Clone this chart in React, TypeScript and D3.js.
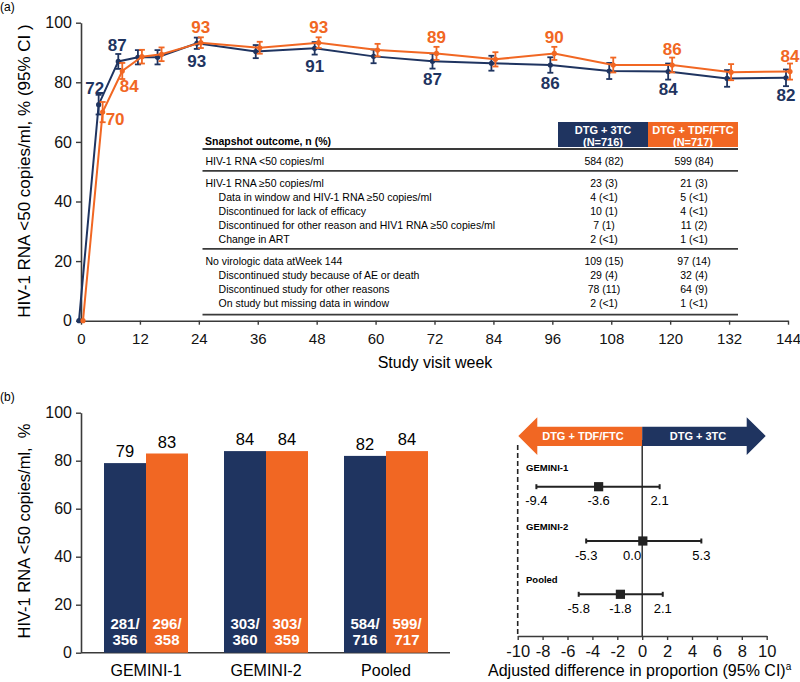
import { useEffect, useRef } from "react";
import { axisBottom, axisLeft, line, scaleBand, scaleLinear, select } from "d3";

// panel (a): week 144 snapshot over time
const weeks = [0, 4, 8, 12, 16, 24, 36, 48, 60, 72, 84, 96, 108, 120, 132, 144];
const pct3tc = [0, 72.5, 87, 88.4, 88.4, 93.1, 90.3, 91.4, 88.7, 87.1, 86.4, 85.8, 83.8, 83.6, 81.3, 81.5];
const pctTdf = [0, 70, 83.8, 88.6, 89.4, 93.3, 91.6, 93.3, 90.8, 89.7, 87.7, 89.7, 85.8, 85.8, 83.4, 83.6];
const ci3tc = [0, 3.3, 2.5, 2.4, 2.4, 1.9, 2.2, 2.1, 2.3, 2.5, 2.5, 2.6, 2.7, 2.7, 2.8, 2.8];
const ciTdf = [0, 3.4, 2.7, 2.3, 2.3, 1.8, 2.0, 1.8, 2.1, 2.2, 2.4, 2.2, 2.5, 2.5, 2.7, 2.7];
const labelWeeks = [4, 8, 24, 48, 72, 96, 120, 144];
const labels3tc = ["72", "87", "93", "91", "87", "86", "84", "82"];
const labelsTdf = ["70", "84", "93", "93", "89", "90", "86", "84"];
const weekTicks = [0, 12, 24, 36, 48, 60, 72, 84, 96, 108, 120, 132, 144];
const pctTicks = [0, 20, 40, 60, 80, 100];

// snapshot table
const tableRowLabels = [
  "HIV-1 RNA <50 copies/ml",
  "HIV-1 RNA \u226550 copies/ml",
  "Data in window and HIV-1 RNA \u226550 copies/ml",
  "Discontinued for lack of efficacy",
  "Discontinued for other reason and HIV1 RNA \u226550 copies/ml",
  "Change in ART",
  "No virologic data atWeek 144",
  "Discontinued study because of AE or death",
  "Discontinued study for other reasons",
  "On study but missing data in window",
];
const tableIndent = [0, 0, 1, 1, 1, 1, 0, 1, 1, 1];
const tableGroupStart = [true, true, false, false, false, false, true, false, false, false];
const table3tc = ["584 (82)", "23 (3)", "4 (<1)", "10 (1)", "7 (1)", "2 (<1)", "109 (15)", "29 (4)", "78 (11)", "2 (<1)"];
const tableTdf = ["599 (84)", "21 (3)", "5 (<1)", "4 (<1)", "11 (2)", "1 (<1)", "97 (14)", "32 (4)", "64 (9)", "1 (<1)"];

// panel (b): bars
const studies = ["GEMINI-1", "GEMINI-2", "Pooled"];
const bar3tc = [79, 84, 82];
const barTdf = [83, 84, 84];
const frac3tc = [["281/", "356"], ["303/", "360"], ["584/", "716"]];
const fracTdf = [["296/", "358"], ["303/", "359"], ["599/", "717"]];

// panel (b): forest plot (positions as drawn, labels as reported)
const diffEst = [-3.5, 0.05, -1.75];
const diffLow = [-8.5, -4.5, -5.1];
const diffHigh = [1.4, 4.75, 1.65];
const estLabels = ["-3.6", "0.0", "-1.8"];
const lowLabels = ["-9.4", "-5.3", "-5.8"];
const highLabels = ["2.1", "5.3", "2.1"];
const diffTicks = [-10, -8, -6, -4, -2, 0, 2, 4, 6, 8, 10];

const NAVY = "#1f3460";
const ORANGE = "#f16723";
const AXIS = "#3a3a3a";
const FONT = "'Liberation Sans', Arial, Helvetica, sans-serif";
const NARROW = "'Liberation Sans Narrow', 'Arial Narrow', 'Liberation Sans', sans-serif";

export default function App() {
  const svgRef = useRef<SVGSVGElement | null>(null);

  useEffect(() => {
    if (!svgRef.current) return;
    const svg = select(svgRef.current);
    svg.selectAll("*").remove();
    svg.attr("font-family", FONT);

    const styleAxis = (g: any, size: number) => {
      g.attr("font-family", FONT).attr("font-size", size);
      g.selectAll("path.domain").attr("stroke", AXIS).attr("stroke-width", 1.6);
      g.selectAll(".tick line").attr("stroke", AXIS).attr("stroke-width", 1.4);
      g.selectAll(".tick text").attr("fill", "#111");
    };

    // ---------- (a) ----------
    svg.append("text").attr("x", 0).attr("y", 11).attr("font-size", 12).text("(a)");

    const x = scaleLinear().domain([0, 144]).range([81, 788]);
    const y = scaleLinear().domain([0, 100]).range([320.7, 22.7]);

    const gyA = svg.append("g").attr("transform", "translate(81,0)")
      .call(axisLeft(y).tickValues(pctTicks).tickSize(5).tickSizeOuter(0).tickPadding(4));
    styleAxis(gyA, 16);
    const gxA = svg.append("g").attr("transform", `translate(0,${y(0)})`)
      .call(axisBottom(x).tickValues(weekTicks).tickSize(4).tickSizeOuter(0).tickPadding(9));
    styleAxis(gxA, 15);

    svg.append("text")
      .attr("transform", "translate(30,171) rotate(-90)")
      .attr("text-anchor", "middle").attr("font-size", 17)
      .text("HIV-1 RNA <50 copies/ml, % (95% CI )");
    svg.append("text").attr("x", 435).attr("y", 368).attr("text-anchor", "middle")
      .attr("font-size", 16).text("Study visit week");

    // table
    const tbl = svg.append("g");
    tbl.append("rect").attr("x", 558).attr("y", 122).attr("width", 90).attr("height", 25).attr("fill", NAVY);
    tbl.append("rect").attr("x", 648).attr("y", 122).attr("width", 90).attr("height", 25).attr("fill", ORANGE);
    const heads = [["DTG + 3TC", "(N=716)", 603], ["DTG + TDF/FTC", "(N=717)", 693]] as const;
    heads.forEach(([a, b, cx]) => {
      tbl.append("text").attr("x", cx).attr("y", 134).attr("text-anchor", "middle").attr("fill", "#fff")
        .attr("font-size", 11).attr("font-weight", "bold").text(a);
      tbl.append("text").attr("x", cx).attr("y", 145.5).attr("text-anchor", "middle").attr("fill", "#fff")
        .attr("font-size", 11).attr("font-weight", "bold").text(b);
    });
    tbl.append("text").attr("x", 205).attr("y", 145).attr("font-size", 10.5).attr("font-weight", "bold")
      .text("Snapshot outcome, n (%)");
    const rule = (yy: number, w: number) =>
      tbl.append("line").attr("x1", 202.5).attr("x2", 738).attr("y1", yy).attr("y2", yy)
        .attr("stroke", AXIS).attr("stroke-width", w);
    rule(149, 1.8);
    let rowY = 161.4;
    tableRowLabels.forEach((lab, i) => {
      if (i > 0) {
        if (tableGroupStart[i]) {
          rule(rowY + 9.5, 1.8);
          rowY += 21.5;
        } else rowY += 14.1;
      }
      const by = rowY + 3.7;
      tbl.append("text").attr("x", tableIndent[i] ? 218.6 : 205.4).attr("y", by).attr("font-size", 10.5).text(lab);
      tbl.append("text").attr("x", 604).attr("y", by).attr("text-anchor", "middle").attr("font-size", 10.5).text(table3tc[i]);
      tbl.append("text").attr("x", 694).attr("y", by).attr("text-anchor", "middle").attr("font-size", 10.5).text(tableTdf[i]);
    });
    rule(rowY + 11.5, 1.8);

    // lines, error bars, markers
    const series = [
      { vals: pct3tc, ci: ci3tc, color: NAVY, dx: -2 },
      { vals: pctTdf, ci: ciTdf, color: ORANGE, dx: 2 },
    ];
    series.forEach((s) => {
      const path = line<number>()
        .x((_, i) => x(weeks[i]) + s.dx)
        .y((d) => y(d));
      svg.append("path").attr("d", path(s.vals)).attr("fill", "none")
        .attr("stroke", s.color).attr("stroke-width", 2);
      const g = svg.append("g").attr("stroke", s.color).attr("stroke-width", 1.8);
      s.vals.forEach((v, i) => {
        const cx = x(weeks[i]) + s.dx;
        if (s.ci[i] > 0) {
          const y0 = y(v - s.ci[i]);
          const y1 = y(v + s.ci[i]);
          g.append("line").attr("x1", cx).attr("x2", cx).attr("y1", y0).attr("y2", y1);
          g.append("line").attr("x1", cx - 3).attr("x2", cx + 3).attr("y1", y0).attr("y2", y0);
          g.append("line").attr("x1", cx - 3).attr("x2", cx + 3).attr("y1", y1).attr("y2", y1);
        }
        svg.append("circle").attr("cx", cx).attr("cy", y(v)).attr("r", 2.6).attr("fill", s.color);
      });
    });

    // point labels
    labelWeeks.forEach((wk, j) => {
      const i = weeks.indexOf(wk);
      const bx = x(wk) - 2;
      const by = y(pct3tc[i]);
      let lx = bx, ly = by + 23.5;
      if (wk === 4) { lx = bx - 4; ly = by - 11; }
      if (wk === 8) { lx = bx - 1; ly = by - 10.5; }
      svg.append("text").attr("x", lx).attr("y", ly).attr("text-anchor", "middle")
        .attr("font-size", 17).attr("font-weight", "bold").attr("fill", NAVY).text(labels3tc[j]);

      const ox = x(wk) + 2;
      const oy = y(pctTdf[i]);
      let tx = ox, ty = oy - 10, anchor = "middle";
      if (wk === 4) { tx = ox + 3; ty = oy + 13; anchor = "start"; }
      if (wk === 8) { tx = ox + 7; ty = oy + 21; }
      svg.append("text").attr("x", tx).attr("y", ty).attr("text-anchor", anchor)
        .attr("font-size", 17).attr("font-weight", "bold").attr("fill", ORANGE).text(labelsTdf[j]);
    });

    // ---------- (b) bars ----------
    svg.append("text").attr("x", 0).attr("y", 401).attr("font-size", 12).text("(b)");

    const yb = scaleLinear().domain([0, 100]).range([652.7, 412.7]);
    const xb = scaleBand<string>().domain(studies).range([86, 446]).paddingInner(0.3).paddingOuter(0.15);
    const half = xb.bandwidth() / 2;

    const gyB = svg.append("g").attr("transform", "translate(81,0)")
      .call(axisLeft(yb).tickValues(pctTicks).tickSize(5).tickSizeOuter(0).tickPadding(4));
    styleAxis(gyB, 16);
    svg.append("line").attr("x1", 81).attr("x2", 450).attr("y1", yb(0)).attr("y2", yb(0))
      .attr("stroke", AXIS).attr("stroke-width", 1.6);

    svg.append("text")
      .attr("transform", "translate(30,531) rotate(-90)")
      .attr("text-anchor", "middle").attr("font-size", 16.5)
      .attr("xml:space", "preserve")
      .text("HIV-1 RNA <50 copies/ml,  %");

    studies.forEach((st, i) => {
      const x0 = xb(st) ?? 0;
      const bars = [
        { v: bar3tc[i], c: NAVY, frac: frac3tc[i], bx: x0 },
        { v: barTdf[i], c: ORANGE, frac: fracTdf[i], bx: x0 + half },
      ];
      bars.forEach((b) => {
        svg.append("rect").attr("x", b.bx).attr("y", yb(b.v)).attr("width", half)
          .attr("height", yb(0) - yb(b.v)).attr("fill", b.c);
        svg.append("text").attr("x", b.bx + half / 2).attr("y", yb(b.v) - 6).attr("text-anchor", "middle")
          .attr("font-size", 16.5).text(String(b.v));
        b.frac.forEach((t, k) => {
          svg.append("text").attr("x", b.bx + half / 2).attr("y", 628.5 + k * 16).attr("text-anchor", "middle")
            .attr("font-family", NARROW).attr("font-weight", "bold").attr("font-size", 15)
            .attr("fill", "#fff").text(t);
        });
      });
      svg.append("text").attr("x", x0 + half).attr("y", 676).attr("text-anchor", "middle")
        .attr("font-size", 16).text(st);
    });

    // ---------- (b) forest ----------
    const xf = scaleLinear().domain([-10, 10]).range([517.7, 766.7]);
    const gxF = svg.append("g").attr("transform", "translate(0,636)")
      .call(axisBottom(xf).tickValues(diffTicks).tickFormat((d: any) => String(d)).tickSize(4).tickSizeOuter(0).tickPadding(5));
    styleAxis(gxF, 16);
    gxF.selectAll(".tick text").attr("font-size", 16.5);

    svg.append("line").attr("x1", xf(-10)).attr("x2", xf(-10)).attr("y1", 445).attr("y2", 636)
      .attr("stroke", "#222").attr("stroke-width", 1.6).attr("stroke-dasharray", "5,3");
    svg.append("line").attr("x1", xf(0)).attr("x2", xf(0)).attr("y1", 440).attr("y2", 636)
      .attr("stroke", "#222").attr("stroke-width", 1.4);

    // direction arrows
    const x0f = xf(0);
    svg.append("path")
      .attr("d", `M${x0f},426.7 L537.3,426.7 L537.3,417.3 L518.3,436 L537.3,455 L537.3,446 L${x0f},446 Z`)
      .attr("fill", ORANGE);
    svg.append("path")
      .attr("d", `M${x0f},426.7 L746.7,426.7 L746.7,417.3 L765.7,436 L746.7,455 L746.7,446 L${x0f},446 Z`)
      .attr("fill", NAVY);
    svg.append("text").attr("x", 583).attr("y", 440).attr("text-anchor", "middle").attr("fill", "#fff")
      .attr("font-size", 11).attr("font-weight", "bold").text("DTG + TDF/FTC");
    svg.append("text").attr("x", 698).attr("y", 440).attr("text-anchor", "middle").attr("fill", "#fff")
      .attr("font-size", 11).attr("font-weight", "bold").text("DTG + 3TC");

    const rowBase = [471, 530, 583];
    const rowLine = [486.7, 541, 594.3];
    studies.forEach((st, i) => {
      svg.append("text").attr("x", 526).attr("y", rowBase[i]).attr("font-size", 9.5)
        .attr("font-weight", "bold").text(st);
      const ly = rowLine[i];
      const g = svg.append("g").attr("stroke", "#222").attr("stroke-width", 2);
      g.append("line").attr("x1", xf(diffLow[i])).attr("x2", xf(diffHigh[i])).attr("y1", ly).attr("y2", ly);
      [diffLow[i], diffHigh[i]].forEach((v) =>
        g.append("line").attr("x1", xf(v)).attr("x2", xf(v)).attr("y1", ly - 2.5).attr("y2", ly + 2.5));
      svg.append("rect").attr("x", xf(diffEst[i]) - 4.6).attr("y", ly - 4.6)
        .attr("width", 9.2).attr("height", 9.2).attr("fill", "#222");
      const ty = ly + 18.5;
      svg.append("text").attr("x", xf(diffLow[i])).attr("y", ty).attr("text-anchor", "middle")
        .attr("font-size", 13).text(lowLabels[i]);
      svg.append("text").attr("x", xf(diffHigh[i])).attr("y", ty).attr("text-anchor", "middle")
        .attr("font-size", 13).text(highLabels[i]);
      const straddles = Math.abs(diffEst[i]) < 0.8;
      svg.append("text").attr("x", straddles ? x0f - 1 : xf(diffEst[i]))
        .attr("y", ty).attr("text-anchor", straddles ? "end" : "middle")
        .attr("font-size", 13).text(estLabels[i]);
    });

    const title = svg.append("text").attr("x", 488).attr("y", 676).attr("font-size", 16);
    title.append("tspan").text("Adjusted difference in proportion (95% CI)");
    title.append("tspan").attr("font-size", 10).attr("dy", -6).text("a");
  }, []);

  return (
    <svg
      ref={svgRef}
      width={800}
      height={682}
      style={{ position: "absolute", left: 0, top: 0, background: "#fff" }}
    />
  );
}
